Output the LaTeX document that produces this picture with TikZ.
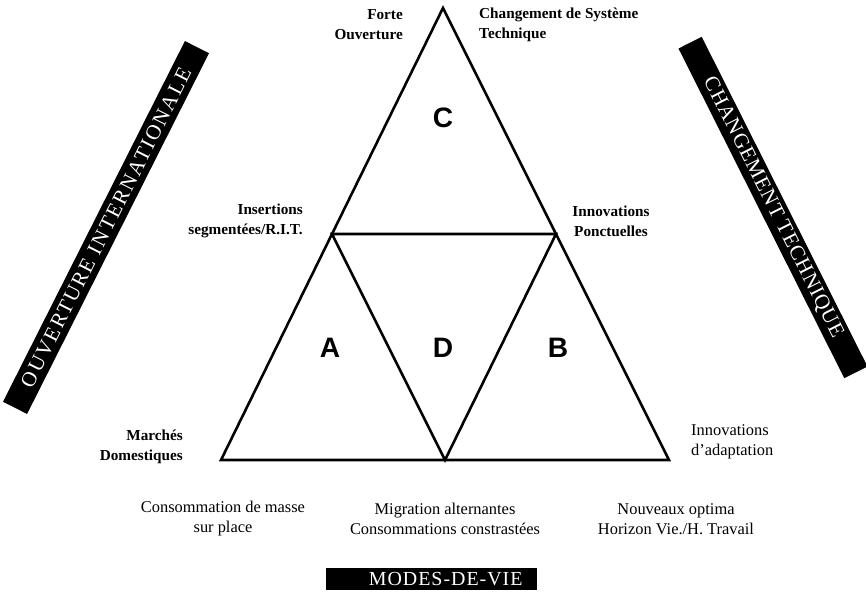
\documentclass[tikz,border=0pt]{standalone}
\usepackage{fontspec}
\setmainfont{Liberation Serif}
\newfontfamily\lettersans{Liberation Sans}

\tikzset{
  upper/.style={inner sep=0pt, font=\fontsize{13}{17}\selectfont\bfseries},
  lower/.style={inner sep=0pt, align=center, font=\fontsize{14}{17}\selectfont},
  bigletter/.style={inner sep=0pt, font=\lettersans\fontsize{24}{24}\selectfont\bfseries},
  band/.style={fill=black, inner sep=0pt, text=white, font=\fontsize{18}{18}\selectfont}
}

\begin{document}
\begin{tikzpicture}[x=0.03cm, y=-0.03cm]

  % Definitions
  \def\lw{2.2pt}      % Line width of the triangles
  \def\angL{63.24}    % Angle of the left band
  \def\angR{-63.3}    % Angle of the right band

  \useasboundingbox (0,0) rectangle (866,595);

  \coordinate (T) at (443,8);
  \coordinate (L) at (221,460);
  \coordinate (R) at (669,460);
  \coordinate (ML) at (332,234);
  \coordinate (MR) at (556,234);
  \coordinate (MB) at (445,460);

  % Draw commands
  \draw [line width=\lw, line join=miter] (T) -- (R) -- (L) -- cycle;
  \draw [line width=\lw, line join=miter] (ML) -- (MR) -- (MB) -- cycle;

  \node [bigletter] (C) at (443,118) {C};
  \node [bigletter] (A) at (330,348) {A};
  \node [bigletter] (D) at (443,348) {D};
  \node [bigletter] (B) at (558,348) {B};

  % Corner texts
  \node [upper, anchor=east, align=right] (forte) at (403,25) {Forte\\Ouverture};
  \node [upper, anchor=west, align=left] (systeme) at (479,25) {Changement de Système\\Technique};
  \node [upper, anchor=east, align=right] (insertions) at (303,221) {Insertions\\segmentées/R.I.T.};
  \node [upper, align=center] (ponctuelles) at (611,221) {Innovations\\Ponctuelles};
  \node [upper, anchor=east, align=right] (marches) at (183,447) {Marchés\\Domestiques};
  \node [lower, anchor=west, align=left] (adaptation) at (691,442) {Innovations\\d'adaptation};

  % Bottom texts
  \node [lower] (masse) at (223,519) {Consommation de masse\\sur place};
  \node [lower] (migration) at (445,519) {Migration alternantes\\Consommations constrastées};
  \node [lower] (optima) at (676,519) {Nouveaux optima\\Horizon Vie./H. Travail};

  % Bands
  \node [band, rotate=\angL, minimum width=12.12cm, minimum height=0.81cm] (ouverture) at (106,227.5)
    {\addfontfeature{LetterSpace=9}OUVERTURE INTERNATIONALE};
  \node [band, rotate=\angR, minimum width=11.07cm, minimum height=0.78cm] (changement) at (773,207.5)
    {\addfontfeature{LetterSpace=4}CHANGEMENT TECHNIQUE};
  \node [band, minimum width=6.33cm, minimum height=0.66cm, font=\fontsize{17}{17}\selectfont] (modes) at (431.5,579)
    {\hspace{0.85cm}\addfontfeature{LetterSpace=5}MODES-DE-VIE};

\end{tikzpicture}
\end{document}
